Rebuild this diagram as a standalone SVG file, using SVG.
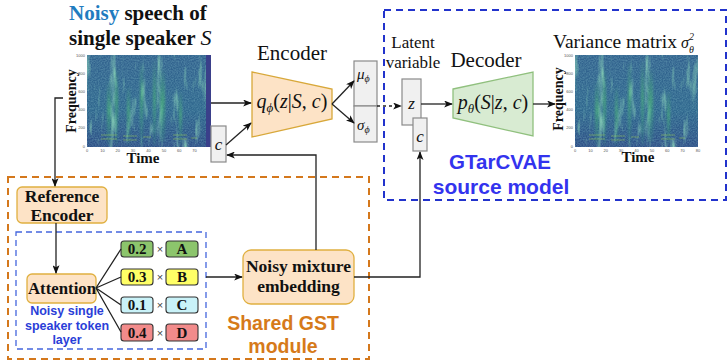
<svg xmlns="http://www.w3.org/2000/svg" xmlns:xlink="http://www.w3.org/1999/xlink" width="728" height="362" viewBox="0 0 728 362">
<style>
.serif{font-family:"Liberation Serif","Times New Roman",serif;fill:#111}
.b{font-weight:bold}
.math{font-family:"Liberation Serif","DejaVu Serif",serif;fill:#111}
.it{font-style:italic}
.sans{font-family:"Liberation Sans",Arial,sans-serif;font-weight:bold}
.tick{font-family:"Liberation Sans",Arial,sans-serif;font-size:4px;fill:#555}
.ln{fill:none;stroke:#222;stroke-width:1.3}
.gbox{fill:#f0f0f0;stroke:#8a8a8a;stroke-width:1.2}
.obox{fill:#fde3c6;stroke:#e0b040;stroke-width:1.3}
.wb{stroke:#333;stroke-width:1.1}
.wt{font-family:"Liberation Serif","Times New Roman",serif;font-weight:bold;font-size:15px;fill:#111}
.x{font-family:"Liberation Sans",Arial,sans-serif;font-size:11px;fill:#444}
</style>
<defs>
<marker id="ah" viewBox="0 0 10 8" refX="9" refY="4" markerWidth="9" markerHeight="7" markerUnits="userSpaceOnUse" orient="auto">
<path d="M0,0 L10,4 L0,8 L2.5,4 z" fill="#111"/>
</marker>
<linearGradient id="bg" x1="0" y1="0" x2="0" y2="1">
<stop offset="0" stop-color="#32628e"/>
<stop offset="0.6" stop-color="#2e668d"/>
<stop offset="0.85" stop-color="#2d5788"/>
<stop offset="1" stop-color="#2d4c85"/>
</linearGradient>
<linearGradient id="sg" x1="0" y1="0" x2="0" y2="1">
<stop offset="0" stop-color="#4fbf74" stop-opacity="0"/>
<stop offset="0.45" stop-color="#4fbf74" stop-opacity="0.55"/>
<stop offset="1" stop-color="#35a07e" stop-opacity="0.15"/>
</linearGradient>
<filter id="streaks" x="0" y="0" width="100%" height="100%">
<feTurbulence type="fractalNoise" baseFrequency="0.13 0.025" numOctaves="3" seed="4" result="t"/>
<feColorMatrix in="t" type="matrix" values="0 0 0 0 0.28  0 0 0 0 0.70  0 0 0 0 0.50  2.6 0 0 0 -1.45"/>
</filter>
<filter id="grain" x="0" y="0" width="100%" height="100%">
<feTurbulence type="fractalNoise" baseFrequency="0.7 0.9" numOctaves="1" seed="9" result="t"/>
<feColorMatrix in="t" type="matrix" values="0 0 0 0 0.22  0 0 0 0 0.50  0 0 0 0 0.58  0.8 0 0 0 -0.25"/>
</filter>
<filter id="soft"><feGaussianBlur stdDeviation="0.8"/></filter>
<g id="spec">
<rect x="0" y="0" width="123" height="92" fill="url(#bg)"/>
<rect x="0" y="0" width="123" height="92" fill="#000" filter="url(#grain)"/>
<rect x="0" y="0" width="123" height="92" fill="#000" filter="url(#streaks)"/>
<g filter="url(#soft)">
<rect x="20" y="25" width="4" height="65" fill="url(#sg)"/>
<rect x="28" y="10" width="3" height="80" fill="url(#sg)"/>
<rect x="40" y="30" width="3" height="60" fill="url(#sg)"/>
<rect x="53" y="5" width="3" height="85" fill="url(#sg)"/>
<rect x="66" y="3" width="3" height="87" fill="url(#sg)"/>
<rect x="73" y="12" width="5" height="75" fill="url(#sg)"/>
<rect x="92" y="35" width="3" height="55" fill="url(#sg)"/>
</g>
<g stroke="#a6d94a" stroke-width="0.8" opacity="0.55">
<path d="M14,80 H30 M14,84 H30 M36,81 H50 M36,85 H50 M56,82 H64 M86,80 H100 M86,84 H100 M104,83 H110"/>
</g>
</g>
<g id="ticks">
<text class="tick" x="-2" y="2" text-anchor="end">1000</text>
<text class="tick" x="-2" y="20" text-anchor="end">800</text>
<text class="tick" x="-2" y="38" text-anchor="end">600</text>
<text class="tick" x="-2" y="56" text-anchor="end">400</text>
<text class="tick" x="-2" y="74" text-anchor="end">200</text>
<text class="tick" x="-2" y="93" text-anchor="end">0</text>
<text class="tick" x="0" y="97" text-anchor="middle">0</text>
<text class="tick" x="15.4" y="97" text-anchor="middle">10</text>
<text class="tick" x="30.8" y="97" text-anchor="middle">20</text>
<text class="tick" x="46.1" y="97" text-anchor="middle">30</text>
<text class="tick" x="61.5" y="97" text-anchor="middle">40</text>
<text class="tick" x="76.9" y="97" text-anchor="middle">50</text>
<text class="tick" x="92.3" y="97" text-anchor="middle">60</text>
<text class="tick" x="107.6" y="97" text-anchor="middle">70</text>
</g>
</defs>

<rect width="728" height="362" fill="#fff"/>

<!-- group frames -->
<rect id="gtarcvae-frame" x="384" y="10" width="342" height="190" fill="none" stroke="#2233cc" stroke-width="2" stroke-dasharray="7 5"/>
<rect id="gst-frame" x="8" y="177" width="361" height="182" fill="none" stroke="#d4781c" stroke-width="2" stroke-dasharray="7 5"/>
<rect id="token-frame" x="16" y="232" width="190" height="117" fill="none" stroke="#4466dd" stroke-width="1.3" stroke-dasharray="6 4"/>

<!-- input spectrogram -->
<g id="input-spec">
<text class="serif b" x="69" y="20" font-size="21"><tspan fill="#1f7cc0">Noisy</tspan> speech of</text>
<text class="serif b" x="69" y="45" font-size="21">single speaker <tspan class="math it" font-weight="normal" font-size="22">S</tspan></text>
<use xlink:href="#spec" transform="translate(87,55)"/>
<rect x="206" y="55" width="5" height="92" fill="#3a3f8a"/>
<use xlink:href="#ticks" transform="translate(87,55)"/>
<text class="serif b" font-size="14" transform="translate(76,101) rotate(-90)" text-anchor="middle">Frequency</text>
<text class="serif b" x="143" y="163" font-size="15" text-anchor="middle">Time</text>
</g>

<g id="cond-c1">
<rect class="gbox" x="211" y="126" width="15" height="36"/>
<text class="math it" x="218.5" y="150" font-size="17" text-anchor="middle">c</text>
</g>

<g id="encoder">
<text class="serif" x="292" y="60" font-size="21" text-anchor="middle">Encoder</text>
<path d="M252,72 L332,89 L332,119 L252,137 z" fill="#fde3c6" stroke="#d8a83a" stroke-width="1.3"/>
<text class="math" x="292" y="108" font-size="20" text-anchor="middle"><tspan class="it">q</tspan><tspan class="it" font-size="13" dy="4">ϕ</tspan><tspan dy="-4">(</tspan><tspan class="it">z</tspan>|<tspan class="it">S</tspan>, <tspan class="it">c</tspan>)</text>
</g>

<g id="mu-sigma">
<rect class="gbox" x="354" y="61" width="23" height="45"/>
<rect class="gbox" x="354" y="106" width="23" height="36"/>
<text class="math it" x="357" y="79" font-size="15">μ<tspan font-size="10" dy="3">ϕ</tspan></text>
<text class="math it" x="357" y="130" font-size="15">σ<tspan font-size="10" dy="3">ϕ</tspan></text>
</g>

<g id="latent">
<text class="serif" x="413" y="48" font-size="17" text-anchor="middle">Latent</text>
<text class="serif" x="413" y="68" font-size="17" text-anchor="middle">variable</text>
<rect class="gbox" x="402" y="79" width="19" height="46"/>
<text class="math it" x="411.5" y="109" font-size="17" text-anchor="middle">z</text>
</g>

<g id="cond-c2">
<rect class="gbox" x="413" y="118" width="14" height="33"/>
<text class="math it" x="420" y="142" font-size="17" text-anchor="middle">c</text>
</g>

<g id="decoder">
<text class="serif" x="486" y="67" font-size="21" text-anchor="middle">Decoder</text>
<path d="M453,89 L533,72 L533,136 L453,118 z" fill="#d8ebd2" stroke="#90c07e" stroke-width="1.3"/>
<text class="math" x="493" y="109" font-size="20" text-anchor="middle"><tspan class="it">p</tspan><tspan class="it" font-size="13" dy="4">θ</tspan><tspan dy="-4">(</tspan><tspan class="it">S</tspan>|<tspan class="it">z</tspan>, <tspan class="it">c</tspan>)</text>
</g>

<g id="output-spec">
<text class="serif" x="553" y="48" font-size="19.5">Variance matrix<tspan class="it" font-size="16" dx="4">σ</tspan><tspan class="it" font-size="10" dy="-8">2</tspan><tspan class="it" font-size="10" dx="-5" dy="13">θ</tspan></text>
<use xlink:href="#spec" transform="translate(575,55)"/>
<use xlink:href="#ticks" transform="translate(575,55)"/>
<text class="tick" x="698" y="152" text-anchor="middle">80</text>
<text class="serif b" font-size="14" transform="translate(563,99) rotate(-90)" text-anchor="middle">Frequency</text>
<text class="serif b" x="638" y="162" font-size="15" text-anchor="middle">Time</text>
</g>

<g id="gtarcvae-label">
<text class="sans" x="500" y="169" font-size="20.5" fill="#3333ee" text-anchor="middle">GTarCVAE</text>
<text class="sans" x="501" y="194" font-size="21" fill="#3333ee" text-anchor="middle">source model</text>
</g>

<g id="reference-encoder">
<rect class="obox" x="17" y="187" width="90" height="36" rx="5"/>
<text class="serif b" x="62" y="202" font-size="17.5" text-anchor="middle">Reference</text>
<text class="serif b" x="62" y="221" font-size="17.5" text-anchor="middle">Encoder</text>
</g>

<g id="attention">
<rect class="obox" x="27" y="274" width="69" height="29" rx="5"/>
<text class="serif b" x="62" y="294" font-size="16.8" text-anchor="middle">Attention</text>
</g>

<g id="token-label">
<text class="sans" x="67" y="315" font-size="12.5" fill="#2a3ed8" text-anchor="middle">Noisy single</text>
<text class="sans" x="67" y="330" font-size="12.5" fill="#2a3ed8" text-anchor="middle">speaker token</text>
<text class="sans" x="67" y="344" font-size="12.5" fill="#2a3ed8" text-anchor="middle">layer</text>
</g>

<g id="token-a">
<rect class="wb" x="121" y="241" width="32" height="16" rx="3" fill="#8cc56c"/>
<text class="wt" x="137" y="254" text-anchor="middle">0.2</text>
<text class="x" x="160" y="253" text-anchor="middle">×</text>
<rect class="wb" x="166" y="241" width="32" height="16" rx="3" fill="#8cc56c"/>
<text class="wt" x="182" y="254" text-anchor="middle">A</text>
</g>
<g id="token-b">
<rect class="wb" x="121" y="269" width="32" height="16" rx="3" fill="#ffff66"/>
<text class="wt" x="137" y="282" text-anchor="middle">0.3</text>
<text class="x" x="160" y="281" text-anchor="middle">×</text>
<rect class="wb" x="166" y="269" width="32" height="16" rx="3" fill="#ffff66"/>
<text class="wt" x="182" y="282" text-anchor="middle">B</text>
</g>
<g id="token-c">
<rect class="wb" x="121" y="297" width="32" height="16" rx="3" fill="#c9f2f8"/>
<text class="wt" x="137" y="310" text-anchor="middle">0.1</text>
<text class="x" x="160" y="309" text-anchor="middle">×</text>
<rect class="wb" x="166" y="297" width="32" height="16" rx="3" fill="#c9f2f8"/>
<text class="wt" x="182" y="310" text-anchor="middle">C</text>
</g>
<g id="token-d">
<rect class="wb" x="121" y="324" width="32" height="17" rx="3" fill="#f28b8b"/>
<text class="wt" x="137" y="338" text-anchor="middle">0.4</text>
<text class="x" x="160" y="337" text-anchor="middle">×</text>
<rect class="wb" x="166" y="324" width="32" height="17" rx="3" fill="#f28b8b"/>
<text class="wt" x="182" y="338" text-anchor="middle">D</text>
</g>

<g id="noisy-mixture-embedding">
<rect class="obox" x="243" y="250" width="111" height="54" rx="8"/>
<text class="serif b" x="298.5" y="272" font-size="17.5" text-anchor="middle">Noisy mixture</text>
<text class="serif b" x="298.5" y="292" font-size="17.5" text-anchor="middle">embedding</text>
</g>

<g id="gst-label">
<text class="sans" x="283" y="330" font-size="19.5" fill="#d67a1a" text-anchor="middle">Shared GST</text>
<text class="sans" x="283" y="353" font-size="19.5" fill="#d67a1a" text-anchor="middle">module</text>
</g>

<g id="connectors">
<path class="ln" d="M211,103 H251" marker-end="url(#ah)"/>
<path class="ln" d="M226,145 L251,123" marker-end="url(#ah)"/>
<path class="ln" d="M332,104 L354,81" marker-end="url(#ah)"/>
<path class="ln" d="M332,104 L354,123" marker-end="url(#ah)"/>
<path class="ln" d="M377,106 H401" stroke-dasharray="3 3" marker-end="url(#ah)"/>
<path class="ln" d="M421,104 H452" marker-end="url(#ah)"/>
<path class="ln" d="M533,104 H555" marker-end="url(#ah)"/>
<path class="ln" d="M63,98 H55 V186" marker-end="url(#ah)"/>
<path class="ln" d="M316,250 V155 H227" marker-end="url(#ah)"/>
<path class="ln" d="M354,277 H420 V152" marker-end="url(#ah)"/>
<path class="ln" d="M56,223 V273" marker-end="url(#ah)"/>
<path class="ln" d="M206,277 H242" marker-end="url(#ah)"/>
<path class="ln" d="M96,288 L121,249 M96,288 L121,277 M96,288 L121,305 M96,288 L121,332" stroke-width="1"/>
</g>
</svg>
